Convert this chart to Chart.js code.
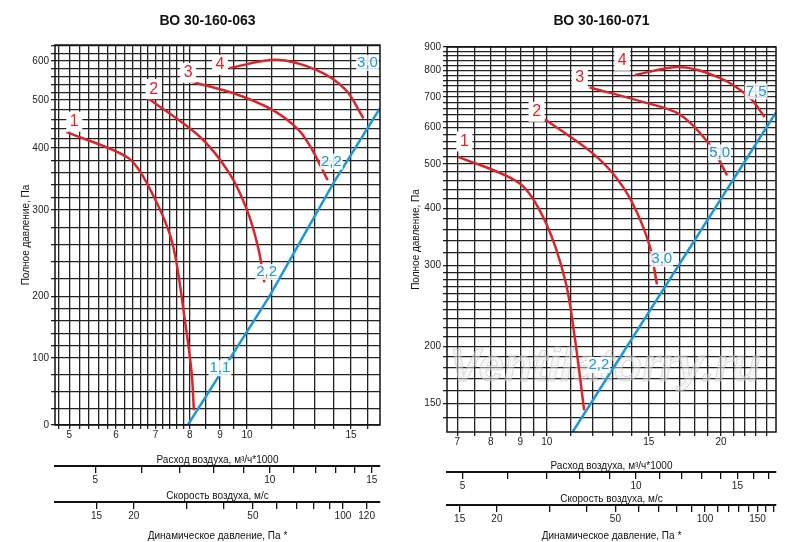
<!DOCTYPE html>
<html><head><meta charset="utf-8">
<script src="https://cdn.jsdelivr.net/npm/chart.js@4.4.1/dist/chart.umd.min.js"></script>
<style>
body{margin:0;background:#fff;width:800px;height:542px;overflow:hidden;display:flex}
.box{position:relative;width:400px;height:542px}
</style></head><body>
<div class="box"><canvas id="c1"></canvas></div>
<div class="box"><canvas id="c2"></canvas></div>
<script>
// ---- data: ВО 30-160-063 (flow, thousand m3/h ; pressure, Pa)
const left1 = [[4.95,433],[6.27,385],[6.77,343],[7.46,264],[7.85,161],[8.06,78],[8.13,22]];
const left2 = [[6.8,505],[8.33,423],[9.34,359],[10.0,300],[10.45,256],[10.7,216]];
const left3 = [[7.85,551],[9.46,518],[11.06,479],[12.25,437],[12.9,397],[13.7,348]];
const left4 = [[9.34,582],[11.2,603],[13.1,577],[14.7,526],[15.75,462]];
const leftSystem = [[7.94,0],[10.9,199],[14.0,343],[16.8,483]];
const leftCurveTags = [['1',5.1,455],['2',6.95,528],['3',7.95,570],['4',9.0,590]];
const leftPowerTags = [['1,1',9.0,85],['2,2',10.8,228],['2,2',13.9,378],['3,0',16.0,595]];
// left pressure axis is non-uniform in the original drawing
const leftWarpP = [0,100,200,300,400,500,600,700];
const leftWarpU = [0,0.176,0.339,0.566,0.729,0.855,0.958,1.06];
const leftPTicks = [0,100,200,300,400,500,600];
const leftFlowTicks = [5,6,7,8,9,10,15];
const leftVelTicks = [5,10,15];
const leftDynTicks = [15,20,50,100,120];

// ---- data: ВО 30-160-071
const right1 = [[7.02,519],[8.98,453],[9.96,372],[10.78,276],[11.2,205],[11.6,145]];
const right2 = [[9.92,626],[11.86,534],[13.0,477],[14.06,411],[15.05,332],[15.5,273]];
const right3 = [[11.86,734],[14.6,684],[16.95,642],[19.1,552],[20.5,472]];
const right4 = [[14.2,782],[16.95,814],[19.9,771],[22.4,699],[23.8,633]];
const rightSystem = [[11.08,130],[24.9,648]];
const rightCurveTags = [['1',7.2,560],['2',9.6,650],['3',11.4,770],['4',13.5,840]];
const rightPowerTags = [['2,2',12.3,182],['3,0',15.8,310],['5,0',19.9,530],['7,5',23.0,720]];
const rightPTicks = [150,200,300,400,500,600,700,800,900];
const rightFlowTicks = [7,8,9,10,15,20];
const rightVelTicks = [5,10,15];
const rightDynTicks = [15,20,50,100,150];

const RED = '#d8262b', BLUE = '#1b98d5';
const FONT = 'Liberation Sans, Arial, sans-serif';

function warp(p){
  for (let i=1;i<leftWarpP.length;i++){
    if (p <= leftWarpP[i] || i === leftWarpP.length-1){
      const t = (p-leftWarpP[i-1])/(leftWarpP[i]-leftWarpP[i-1]);
      return leftWarpU[i-1] + t*(leftWarpU[i]-leftWarpU[i-1]);
    }
  }
}
function unwarp(u){
  for (let i=1;i<leftWarpU.length;i++){
    if (u <= leftWarpU[i]+1e-9 || i === leftWarpU.length-1){
      const t = (u-leftWarpU[i-1])/(leftWarpU[i]-leftWarpU[i-1]);
      return leftWarpP[i-1] + t*(leftWarpP[i]-leftWarpP[i-1]);
    }
  }
}
function range(a,b,s){ const r=[]; for(let v=a; v<=b+1e-9; v+=s) r.push(+v.toFixed(3)); return r; }
function near(list,v){ return list.some(t=>Math.abs(t-v)<1e-6); }

function curveSet(curves, system, yf){
  const ds = curves.map(c=>({data:c.map(p=>({x:p[0],y:yf(p[1])})), borderColor:RED, borderWidth:2.5, pointRadius:0, tension:0.3, fill:false}));
  ds.push({data:system.map(p=>({x:p[0],y:yf(p[1])})), borderColor:BLUE, borderWidth:2.5, pointRadius:0, tension:0, fill:false});
  return ds;
}

function decorPlugin(title, curveTags, powerTags, yf, watermark){
  return {
    id:'decor',
    beforeDatasetsDraw(chart){
      const {ctx, chartArea:a} = chart;
      if (!watermark) return;
      ctx.save();
      ctx.font='italic bold 46px '+FONT; ctx.textAlign='center'; ctx.textBaseline='middle';
      ctx.fillStyle='rgba(235,235,235,0.45)';
      ctx.fillText(watermark, a.left+(a.right-a.left)*0.48, 368);
      ctx.strokeStyle='rgba(190,190,190,0.55)'; ctx.lineWidth=1;
      ctx.strokeText(watermark, a.left+(a.right-a.left)*0.48, 368);
      ctx.restore();
    },
    afterDatasetsDraw(chart){
      const {ctx, chartArea:a, scales:{x,y}} = chart;
      ctx.save();
      ctx.strokeStyle='#111'; ctx.lineWidth=1.5;
      ctx.strokeRect(a.left,a.top,a.right-a.left,a.bottom-a.top);
      ctx.font='bold 14px '+FONT; ctx.fillStyle='#111'; ctx.textAlign='center';
      ctx.fillText(title,(a.left+a.right)/2-10,25);
      ctx.font='16px '+FONT; ctx.textBaseline='middle';
      curveTags.forEach(t=>{
        const px=x.getPixelForValue(t[1]), py=y.getPixelForValue(yf(t[2]));
        ctx.fillStyle='#fff'; ctx.fillRect(px-8,py-10,16,20);
        ctx.fillStyle=RED; ctx.fillText(t[0],px,py);
      });
      ctx.font='15px '+FONT;
      powerTags.forEach(t=>{
        const px=x.getPixelForValue(t[1]), py=y.getPixelForValue(yf(t[2]));
        const w=ctx.measureText(t[0]).width;
        ctx.fillStyle='rgba(255,255,255,0.85)'; ctx.fillRect(px-w/2-1,py-8,w+2,16);
        ctx.fillStyle=BLUE; ctx.fillText(t[0],px,py);
      });
      ctx.restore();
    }
  };
}

function subAxis(min,max,ticks,labels,title,height,weight){
  return {
    type:'logarithmic', position:'bottom', min, max, weight,
    afterBuildTicks(s){ s.ticks = ticks.map(v=>({value:v})); },
    afterFit(s){ s.height = height; },
    border:{display:true,color:'#111',width:2},
    grid:{drawOnChartArea:false, drawTicks:true, tickLength:7, color:'#111', lineWidth:1.3},
    ticks:{autoSkip:false, maxRotation:0, padding:1, color:'#222', font:{size:10,family:FONT},
      callback:(v)=> near(labels,v) ? String(v) : ''},
    title:{display:true, text:title, color:'#111', font:{size:10,family:FONT}, padding:{top:3,bottom:0}}
  };
}

function flowAxis(min,max,grid,labels,height){
  return {
    type:'logarithmic', position:'bottom', min, max, weight:0,
    afterBuildTicks(s){ s.ticks = grid.map(v=>({value:v})); },
    afterFit(s){ s.height = height; },
    border:{display:false},
    grid:{color:'#222', lineWidth:1.3, drawTicks:true, tickLength:4},
    ticks:{autoSkip:false, maxRotation:0, padding:0, color:'#222', font:{size:10,family:FONT},
      callback:(v)=> near(labels,v) ? String(v) : ''},
    title:{display:true, text:'Расход воздуха, м³/ч*1000', color:'#111', font:{size:10,family:FONT}, padding:{top:5,bottom:0}}
  };
}

Chart.defaults.animation = false;

// ---- left chart
const leftGridX = range(4.8,8,0.2).concat([8.5,9,9.5],range(10,16,1));
const leftGridP = range(0,100,25).concat(range(120,640,20));
new Chart(document.getElementById('c1'), {
  type:'line',
  data:{datasets:curveSet([left1,left2,left3,left4], leftSystem, warp)},
  options:{
    responsive:true, maintainAspectRatio:false,
    layout:{padding:{left:20,right:20,top:45,bottom:0}},
    plugins:{legend:{display:false}, tooltip:{enabled:false}},
    scales:{
      x: flowAxis(4.73,16.8,leftGridX,leftFlowTicks,41),
      vel: subAxis(4.26,15.5,range(5,15,1),leftVelTicks,'Скорость воздуха, м/с',36,1),
      dyn: subAxis(10.9,133,[15,20,30,40,50,60,70,80,90,100,120],leftDynTicks,'Динамическое давление, Па *',40,2),
      y:{
        type:'linear', min:0, max:1,
        afterBuildTicks(s){ s.ticks = leftGridP.map(p=>({value:warp(p)})); },
        afterFit(s){ s.width = 35; },
        border:{display:false},
        grid:{color:'#222', lineWidth:1.3, tickLength:4},
        ticks:{autoSkip:false, padding:2, color:'#222', font:{size:10,family:FONT},
          callback:(v)=>{ const p=Math.round(unwarp(v)); return near(leftPTicks,p) ? String(p) : ''; }},
        title:{display:true, text:'Полное давление, Па', color:'#111', font:{size:10,family:FONT}, padding:0}
      }
    }
  },
  plugins:[decorPlugin('ВО 30-160-063', leftCurveTags, leftPowerTags, warp, null)]
});

// ---- right chart
const ident = v=>v;
const rightGridX = range(7,10,0.5).concat(range(11,24,1));
const rightGridP = range(140,300,10).concat(range(320,900,20));
new Chart(document.getElementById('c2'), {
  type:'line',
  data:{datasets:curveSet([right1,right2,right3,right4], rightSystem, ident)},
  options:{
    responsive:true, maintainAspectRatio:false,
    layout:{padding:{left:10,right:24,top:47,bottom:0}},
    plugins:{legend:{display:false}, tooltip:{enabled:false}},
    scales:{
      x: flowAxis(6.72,24.9,rightGridX,rightFlowTicks,40),
      vel: subAxis(4.7,17.5,range(5,17,1),rightVelTicks,'Скорость воздуха, м/с',33,1),
      dyn: subAxis(13.6,173,[15,20,30,40,50,60,70,80,90,100,110,120,130,140,150,160,170],rightDynTicks,'Динамическое давление, Па *',37,2),
      y:{
        type:'logarithmic', min:130, max:900,
        afterBuildTicks(s){ s.ticks = rightGridP.map(v=>({value:v})); },
        afterFit(s){ s.width = 37; },
        border:{display:false},
        grid:{color:'#222', lineWidth:1.3, tickLength:4},
        ticks:{autoSkip:false, padding:2, color:'#222', font:{size:10,family:FONT},
          callback:(v)=> near(rightPTicks,v) ? String(v) : ''},
        title:{display:true, text:'Полное давление, Па', color:'#111', font:{size:10,family:FONT}, padding:0}
      }
    }
  },
  plugins:[decorPlugin('ВО 30-160-071', rightCurveTags, rightPowerTags, ident, 'Ventilatorry.ru')]
});
</script>
</body></html>
